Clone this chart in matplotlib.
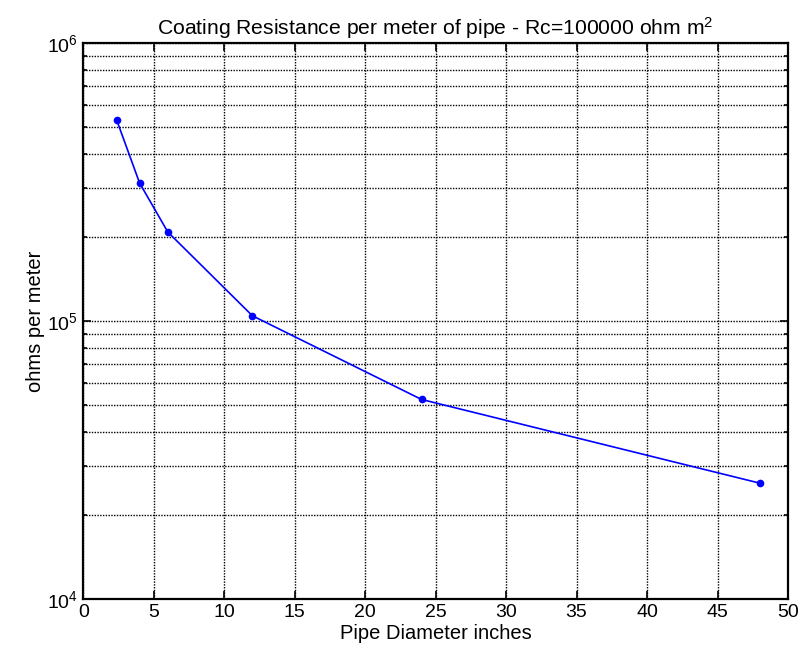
import matplotlib as mpl
mpl.use('Agg')
import matplotlib.pyplot as plt
from matplotlib.ticker import LogLocator, MultipleLocator, NullFormatter

# pipe diameter (inches) vs coating resistance per meter
diametros = [2.375, 4, 6, 12, 24, 48]
ohms_por_metro = [527700, 313300, 208900, 104400, 52200, 26100]

plt.rcParams['font.family'] = ['Liberation Sans', 'DejaVu Sans']
plt.rcParams['mathtext.fontset'] = 'custom'
plt.rcParams['mathtext.rm'] = 'Liberation Sans'
plt.rcParams['mathtext.default'] = 'regular'

fig = plt.figure(figsize=(8, 6.59), dpi=100)
ax = fig.add_axes([0.104, 0.091, 0.881, 0.844])

ax.plot(diametros, ohms_por_metro, color='blue', lw=1.2, marker='o', ms=4.5)
ax.set_yscale('log')
ax.set_xlim(0, 50)
ax.set_ylim(1e4, 1e6)
ax.xaxis.set_major_locator(MultipleLocator(5))
ax.yaxis.set_major_locator(LogLocator(base=10))
ax.yaxis.set_minor_locator(LogLocator(base=10, subs=range(2, 10)))
ax.yaxis.set_minor_formatter(NullFormatter())

estilo_grade = dict(color='black', ls=(0, (1, 1)), lw=1.0)
ax.grid(True, which='major', **estilo_grade)
ax.grid(True, which='minor', axis='y', **estilo_grade)
ax.tick_params(which='both', direction='in', top=True, right=True, labelsize=14, width=1.2)
ax.tick_params(which='major', length=6)
ax.tick_params(which='minor', length=3)
for s in ax.spines.values():
    s.set_linewidth(1.6)

ax.set_title('Coating Resistance per meter of pipe - Rc=100000 ohm m$^2$', fontsize=15.2, pad=6)
ax.set_xlabel('Pipe Diameter inches', fontsize=14.5, labelpad=2)
ax.set_ylabel('ohms per meter', fontsize=14.5, labelpad=2)

plt.savefig('out.png')
